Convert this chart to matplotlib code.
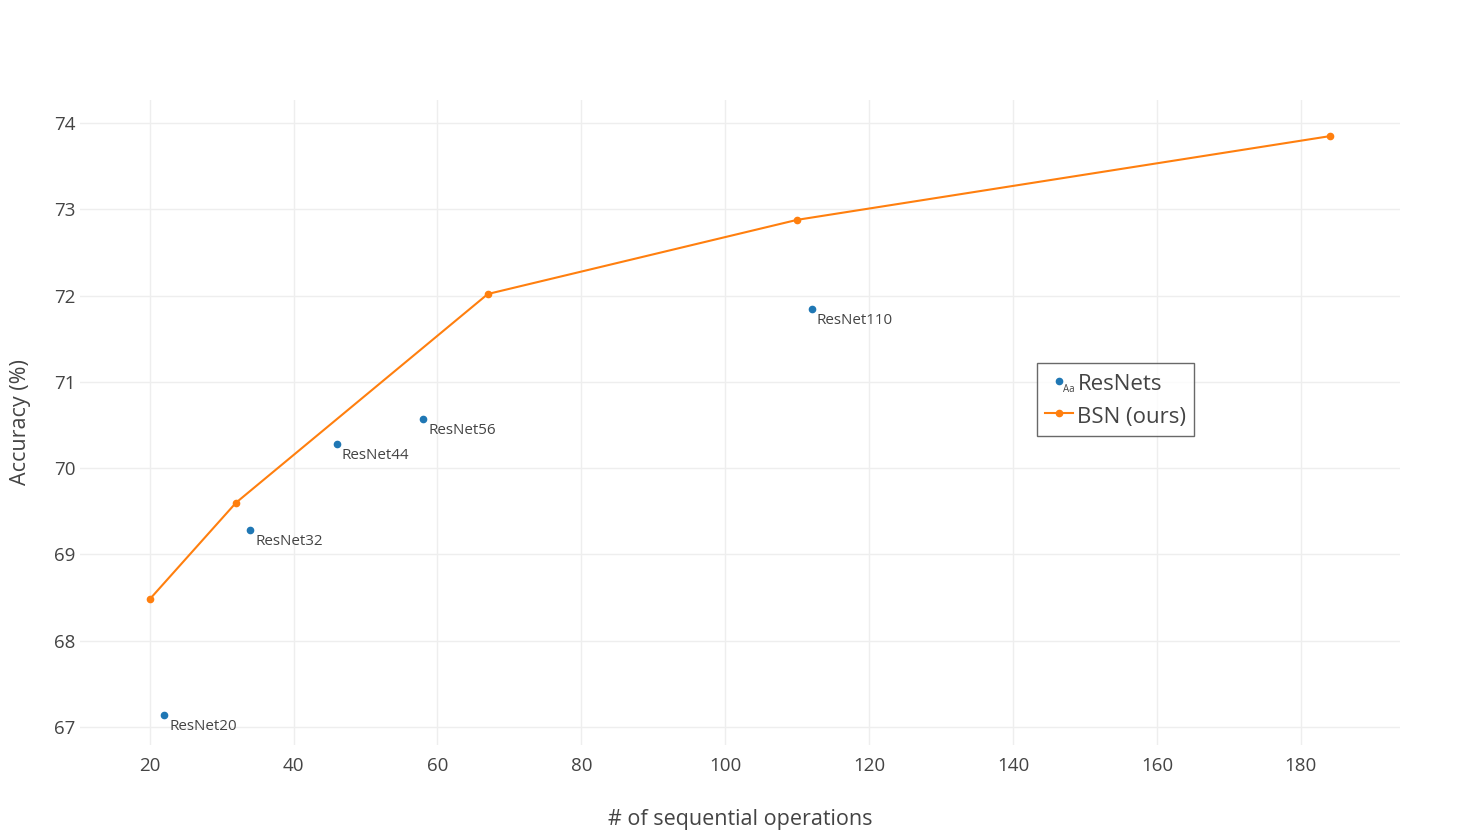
import numpy as np
import matplotlib.pyplot as plt
from matplotlib.legend_handler import HandlerBase
from matplotlib.lines import Line2D

plt.rcParams['font.family'] = ['Open Sans', 'DejaVu Sans']

# data
resnet_ops = [22, 34, 46, 58, 112]
resnet_acc = [67.14, 69.28, 70.28, 70.57, 71.85]
resnet_names = ['ResNet20', 'ResNet32', 'ResNet44', 'ResNet56', 'ResNet110']

bsn_ops = [20, 32, 67, 110, 184]
bsn_acc = [68.48, 69.60, 72.02, 72.88, 73.85]

blue = '#1f77b4'
orange = '#ff7f0e'
txt = '#444444'


class DotTextHandler(HandlerBase):
    # marker + small "Aa" like a plotly markers+text legend entry
    def create_artists(self, legend, orig_handle, xdescent, ydescent,
                       width, height, fontsize, trans):
        cx = width * 0.5
        cy = height * 0.5
        dot = Line2D([cx], [cy - 2], marker='o', markersize=4.5,
                     color=blue, linestyle='None', transform=trans)
        aa = plt.Text(cx + 7, cy - 8, 'Aa', fontsize=7,
                      color=txt, transform=trans, ha='center', va='center')
        return [dot, aa]


fig = plt.figure(figsize=(14.8, 8.31), dpi=100)
ax = fig.add_axes([0.054, 0.1035, 0.892, 0.7762])

ax.plot(resnet_ops, resnet_acc, 'o', color=blue, markersize=4.5, label='ResNets')
ax.plot(bsn_ops, bsn_acc, '-o', color=orange, markersize=4.5, linewidth=1.5, label='BSN (ours)')

for x, y, name in zip(resnet_ops, resnet_acc, resnet_names):
    ax.annotate(name, (x, y), xytext=(5, -4), textcoords='offset pixels',
                ha='left', va='top', fontsize=10.9, color=txt)

ax.set_xlim(10.3, 193.8)
ax.set_ylim(66.79, 74.27)
ax.set_xticks(np.arange(20, 181, 20))
ax.set_yticks(np.arange(67, 75, 1))
ax.grid(True, color='#eeeeee', linewidth=1)
ax.set_axisbelow(True)
for s in ax.spines.values():
    s.set_visible(False)
ax.tick_params(length=0, labelsize=13.5, labelcolor=txt)
ax.tick_params(axis='y', pad=3)
ax.tick_params(axis='x', pad=9)
ax.set_xlabel('# of sequential operations', fontsize=15.5, color=txt, labelpad=24)
ax.set_ylabel('Accuracy (%)', fontsize=15.5, color=txt, labelpad=16.5)

h1, h2 = ax.get_legend_handles_labels()[0]
leg = ax.legend([h1, h2], ['ResNets', 'BSN (ours)'], handler_map={h1: DotTextHandler()},
                loc='upper left', bbox_to_anchor=(0.725, 0.592), fontsize=16,
                frameon=True, fancybox=False, edgecolor=txt, handlelength=1.25,
                handleheight=1.3, handletextpad=0.22, borderpad=0.35,
                labelspacing=0.35, labelcolor=txt, borderaxespad=0)
leg.get_frame().set_linewidth(1)

fig.savefig('out.png', dpi=100)
